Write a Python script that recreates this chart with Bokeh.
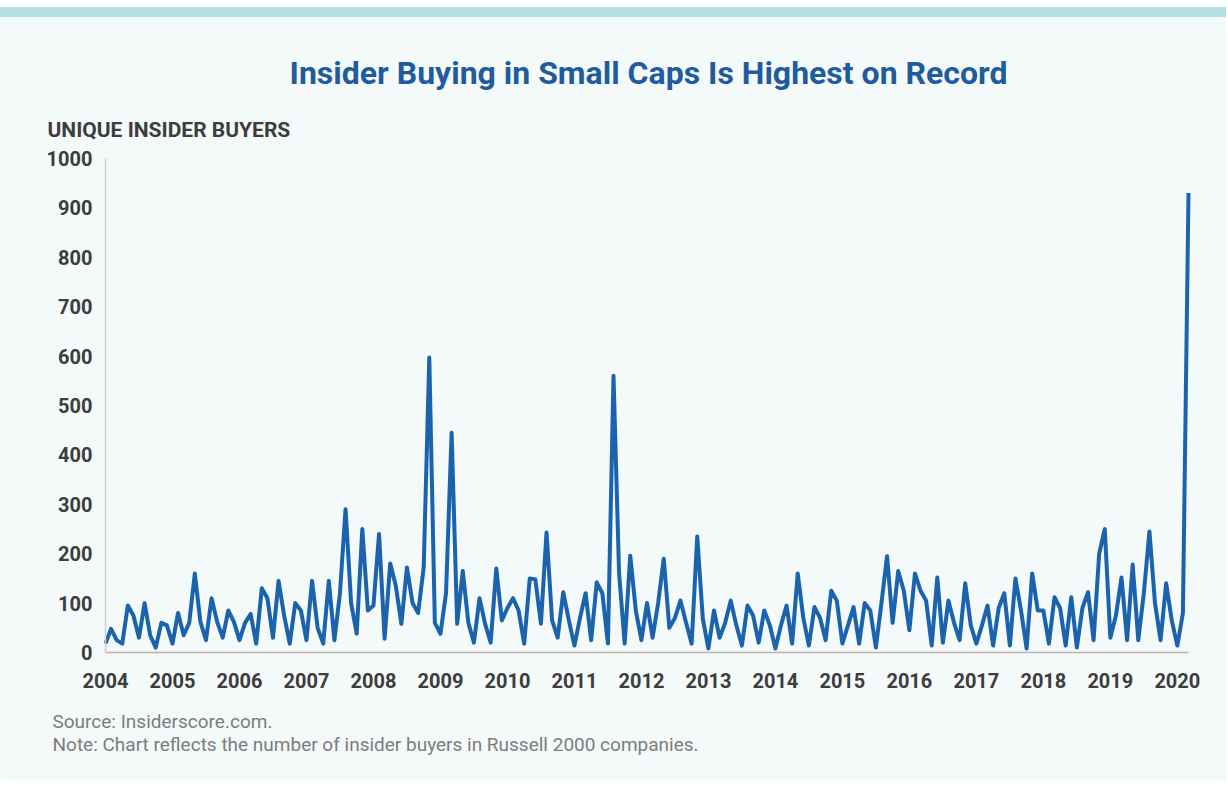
from bokeh.plotting import figure
from bokeh.models import Label, FixedTicker, Div, Range1d
from bokeh.layouts import column
from bokeh.embed import file_html
from bokeh.resources import INLINE

TITLE = "Insider Buying in Small Caps Is Highest on Record"
Y_LABEL = "UNIQUE INSIDER BUYERS"
SOURCE = "Source: Insiderscore.com."
NOTE = "Note: Chart reflects the number of insider buyers in Russell 2000 companies."

years = list(range(2004, 2021))
year_labels = [str(y) for y in years]
y_ticks = [0, 100, 200, 300, 400, 500, 600, 700, 800, 900, 1000]

# monthly unique insider buyers, Jan 2004 - Mar 2020
b2004 = [18, 48, 25, 18, 95, 75, 30, 100, 35, 10, 60, 55]
b2005 = [18, 80, 35, 60, 160, 62, 25, 110, 62, 30, 85, 62]
b2006 = [25, 60, 78, 18, 130, 110, 30, 145, 75, 18, 100, 85]
b2007 = [25, 145, 50, 18, 145, 25, 120, 290, 100, 38, 250, 85]
b2008 = [95, 240, 28, 180, 135, 58, 172, 100, 80, 172, 597, 60]
b2009 = [38, 120, 445, 58, 165, 60, 20, 110, 58, 20, 170, 65]
b2010 = [90, 110, 85, 18, 150, 148, 58, 243, 65, 30, 122, 65]
b2011 = [14, 70, 120, 25, 142, 120, 18, 560, 160, 18, 196, 85]
b2012 = [25, 100, 30, 100, 190, 50, 70, 105, 60, 18, 235, 68]
b2013 = [8, 85, 30, 60, 105, 55, 14, 95, 75, 20, 85, 55]
b2014 = [8, 55, 95, 18, 160, 70, 14, 92, 70, 25, 125, 105]
b2015 = [18, 55, 92, 18, 100, 85, 10, 100, 195, 60, 165, 125]
b2016 = [45, 160, 125, 105, 14, 152, 20, 105, 60, 25, 140, 55]
b2017 = [18, 55, 95, 14, 90, 120, 14, 150, 85, 8, 160, 85]
b2018 = [85, 18, 112, 90, 14, 112, 10, 90, 122, 25, 200, 250]
b2019 = [30, 75, 152, 25, 178, 25, 120, 245, 100, 25, 140, 65]
b2020 = [14, 80, 930]

buyers = (b2004 + b2005 + b2006 + b2007 + b2008 + b2009 + b2010 + b2011 + b2012
          + b2013 + b2014 + b2015 + b2016 + b2017 + b2018 + b2019 + b2020)
t = [2004 + i / 12 for i in range(len(buyers))]
t_end = t[-1]

BG = "#f4f9fa"
FONT = "Roboto"
W = 1226          # canvas width
TOP = 17          # page y where the canvas starts (below the teal band)
H = 763           # canvas height

# layout of the plotting area, in page pixels
AX_LEFT, AX_RIGHT = 105, 1188
AX_TOP, AX_BOTTOM = 158, 652
kx = (AX_RIGHT - AX_LEFT) / (t_end - 2004)
ky = (AX_BOTTOM - AX_TOP) / 1000.0


def dx(px):
    return 2004 + (px - AX_LEFT) / kx


def dy(py):
    return (AX_BOTTOM - py) / ky


p = figure(width=W, height=H, output_backend="svg", toolbar_location=None,
           x_range=Range1d(dx(0), dx(W)), y_range=Range1d(dy(TOP + H), dy(TOP)),
           min_border=0, background_fill_color=BG, border_fill_color=BG,
           outline_line_color=None)

p.line(t, buyers, line_width=4, line_color="#1c63ad", line_join="round")

p.xgrid.visible = False
p.ygrid.visible = False

p.xaxis.ticker = FixedTicker(ticks=years)
p.xaxis.major_label_overrides = {y: l for y, l in zip(years, year_labels)}
p.yaxis.ticker = FixedTicker(ticks=y_ticks)
p.xaxis.fixed_location = 0
p.yaxis.fixed_location = 2004
p.xaxis.bounds = (2004, t_end)
p.yaxis.bounds = (0, 1000)

for ax in (p.xaxis, p.yaxis):
    ax.major_tick_line_color = None
    ax.minor_tick_line_color = None
    ax.major_label_text_font = FONT
    ax.major_label_text_font_size = "20px"
    ax.major_label_text_font_style = "bold"
    ax.major_label_text_color = "#3d3d3d"
p.xaxis.axis_line_color = "#bdb5ad"
p.xaxis.axis_line_width = 1.5
p.yaxis.axis_line_color = "#cfcfcf"
p.yaxis.axis_line_width = 1.5
p.xaxis.major_label_standoff = 14
p.yaxis.major_label_standoff = 7

p.add_layout(Label(x=dx(648), y=dy(72), text=TITLE, text_align="center",
                   text_baseline="alphabetic", text_font=FONT, text_font_style="bold",
                   text_font_size="32px", text_color="#1f5c9e"))
p.add_layout(Label(x=dx(47), y=dy(129), text=Y_LABEL, text_align="left",
                   text_baseline="alphabetic", text_font=FONT, text_font_style="bold",
                   text_font_size="21px", text_color="#3d3d3d"))
p.add_layout(Label(x=dx(52), y=dy(721), text=SOURCE, text_align="left",
                   text_baseline="alphabetic", text_font=FONT,
                   text_font_size="19px", text_color="#7d7d7d"))
p.add_layout(Label(x=dx(52), y=dy(744), text=NOTE, text_align="left",
                   text_baseline="alphabetic", text_font=FONT,
                   text_font_size="19px", text_color="#7d7d7d"))

gap = Div(text="", width=W, height=7, margin=0, styles={"background-color": "#ffffff"})
band = Div(text="", width=W, height=10, margin=0, styles={"background-color": "#b5dfe0"})

layout = column(gap, band, p, spacing=0)

open("out.html", "w").write(file_html(layout, INLINE))
